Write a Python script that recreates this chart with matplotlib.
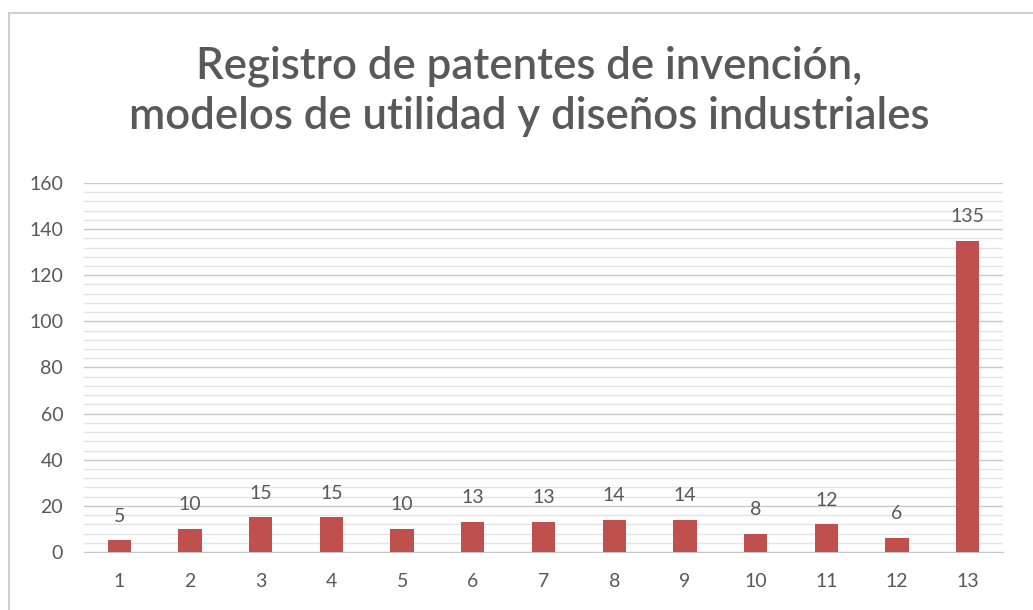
import numpy as np
import matplotlib.pyplot as plt
from matplotlib.lines import Line2D

# Chart data
categories = [str(i) for i in range(1, 14)]
values = [5, 10, 15, 15, 10, 13, 13, 14, 14, 8, 12, 6, 135]
title = 'Registro de patentes de invención,\nmodelos de utilidad y diseños industriales'

bar_color = '#C0504D'
text_gray = '#595959'

plt.rcParams['font.family'] = ['Lato', 'DejaVu Sans']

fig = plt.figure(figsize=(10.33, 6.10), dpi=100)
ax = fig.add_axes([0.0813, 0.0951, 0.8897, 0.605])

x = np.arange(len(categories))
bars = ax.bar(x, values, width=0.33, color=bar_color, zorder=3)

# Value labels above bars
for xi, v in zip(x, values):
    ax.text(xi, v + 10.5, str(v), ha='center', va='center', fontsize=14, color=text_gray)

ax.set_xlim(-0.5, len(categories) - 0.5)
ax.set_ylim(0, 160)
ax.set_yticks(np.arange(0, 161, 20))
ax.set_yticks(np.arange(0, 161, 4), minor=True)
ax.set_xticks(x)
ax.set_xticklabels(categories)

ax.grid(axis='y', which='major', color='#C8C8C8', linewidth=1.0, zorder=0)
ax.grid(axis='y', which='minor', color='#E4E4E4', linewidth=1.0, zorder=0)
ax.tick_params(axis='both', which='both', length=0, labelsize=14, labelcolor=text_gray)
ax.tick_params(axis='x', pad=15)
ax.tick_params(axis='y', pad=15)
for s in ['top', 'right', 'left']:
    ax.spines[s].set_visible(False)
ax.spines['bottom'].set_color('#C8C8C8')

fig.text(0.512, 0.851, title, ha='center', va='center', fontsize=31.5,
         fontweight='semibold', color=text_gray, linespacing=1.27)

# Chart area border (left and top edges visible)
fig.add_artist(Line2D([9 / 1033, 9 / 1033], [0, 1 - 13 / 610], color='#D0D0D0', lw=1.5))
fig.add_artist(Line2D([9 / 1033, 1], [1 - 13 / 610, 1 - 13 / 610], color='#D0D0D0', lw=1.5))

fig.savefig('out.png', dpi=100)
